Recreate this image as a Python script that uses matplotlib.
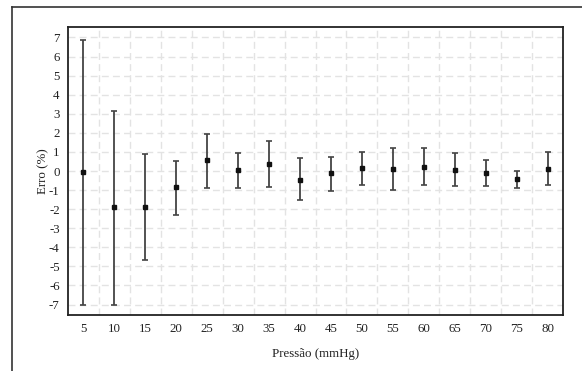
import matplotlib
matplotlib.use("Agg")
import matplotlib.pyplot as plt
from matplotlib.lines import Line2D
import numpy as np

pressure = [5, 10, 15, 20, 25, 30, 35, 40, 45, 50, 55, 60, 65, 70, 75, 80]
mean_err = [-0.05, -1.9, -1.9, -0.85, 0.57, 0.03, 0.39, -0.45, -0.13, 0.15, 0.10, 0.22, 0.03, -0.13, -0.43, 0.10]
upper = [6.85, 3.17, 0.87, 0.55, 1.95, 0.93, 1.56, 0.67, 0.74, 1.02, 1.20, 1.20, 0.92, 0.57, -0.01, 0.99]
lower = [-7.0, -7.0, -4.66, -2.32, -0.87, -0.88, -0.83, -1.51, -1.07, -0.71, -1.02, -0.71, -0.81, -0.80, -0.90, -0.74]
yticks = list(range(-7, 8))

plt.rcParams['font.family'] = ['Liberation Serif', 'DejaVu Serif']
plt.rcParams['axes.unicode_minus'] = False

fig = plt.figure(figsize=(5.82, 3.71), dpi=100)
ax = fig.add_axes([68/582, 1-315/371, (563-68)/582, (315-27)/371])

m = np.array(mean_err)
yerr = np.vstack([m - np.array(lower), np.array(upper) - m])
ax.errorbar(pressure, mean_err, yerr=yerr, fmt='s', color='#111111', ms=3.2,
            ecolor='#444444', elinewidth=1.3, capsize=2.5, capthick=1.2, zorder=3)

ax.set_xlim(2.5, 82.5)
ax.set_ylim(-7.55, 7.55)
ax.set_xticks(pressure)
ax.set_yticks(yticks)
ax.set_xticks(np.arange(7.5, 80, 5), minor=True)
ax.tick_params(which='both', length=0)
ax.tick_params(axis='both', labelsize=9.3, colors='#222222', pad=6)
ax.grid(False)
ax.grid(which='minor', axis='x', color='#e3e3e3', linestyle=(0, (5, 3)), linewidth=1)
ax.grid(which='major', axis='y', color='#e3e3e3', linestyle=(0, (5, 3)), linewidth=1)
for s in ax.spines.values():
    s.set_linewidth(1.3)
    s.set_color('#222222')

ax.set_xlabel('Pressão (mmHg)', fontsize=9.3, color='#222222', labelpad=9)
ax.set_ylabel('Erro (%)', fontsize=9.3, color='#222222', labelpad=0)

fig.add_artist(Line2D([12/582, 1], [1-7/371, 1-7/371], color='#333333', lw=1.2, transform=fig.transFigure))
fig.add_artist(Line2D([12/582, 12/582], [0, 1-7/371], color='#333333', lw=1.2, transform=fig.transFigure))

fig.savefig('out.png', dpi=100)
